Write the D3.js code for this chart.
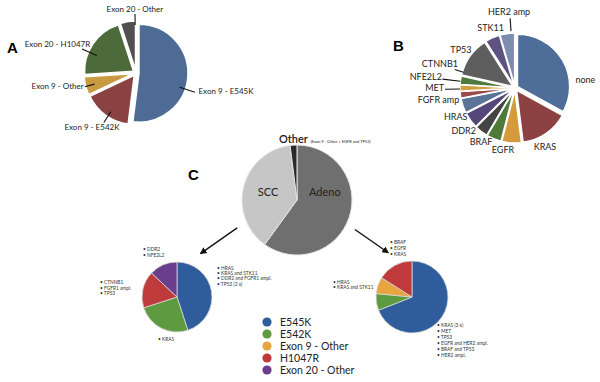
<!DOCTYPE html>
<html>
<head>
<meta charset="utf-8">
<script src="https://cdn.jsdelivr.net/npm/d3@7"></script>
<style>
    body { margin: 0; background: #fff; }
    svg { display: block; font-family: Lato, "Open Sans", sans-serif; }
</style>
</head>
<body>
<div id="chart"></div>
<script>

// ---- Panel A: PIK3CA mutation types
const exonNames = ["Exon 9 - E545K", "Exon 9 - E542K", "Exon 9 - Other", "Exon 20 - H1047R", "Exon 20 - Other"];
const exonShares = [52, 16, 6, 21, 5];
const exonColors = ["#4d6b95", "#8a4242", "#c99a40", "#4d6a3a", "#505050"];

// ---- Panel B: co-occurring alterations
const geneNames = ["none", "KRAS", "EGFR", "BRAF", "DDR2", "HRAS", "FGFR amp", "MET", "NFE2L2", "CTNNB1", "TP53", "STK11", "HER2 amp"];
const geneShares = [33, 15, 6, 4.5, 4, 5, 4.5, 2, 2, 2.5, 12.5, 4.5, 4.5];
const geneColors = ["#4e6d98", "#8c4242", "#d49a3c", "#4e7a3a", "#444444", "#55477a", "#5a7396",
                    "#9a4a4a", "#d0a040", "#4f7a3e", "#5e5e5e", "#5e5280", "#7d8db0"];

// ---- Panel C: histology + mutation split
const histNames = ["Adeno", "SCC", "Other"];
const histShares = [60, 38, 2];
const histColors = ["#6f6f6f", "#c6c6c6", "#2b2b2b"];

const mutNames = ["E545K", "E542K", "Exon 9 - Other", "H1047R", "Exon 20 - Other"];
const mutColors = ["#2f5c9b", "#5e9a40", "#e6a53e", "#bf3a3a", "#6a3e8c"];
const sccShares = [45, 25, 0, 17, 13];
const adenoShares = [69, 7.5, 7.5, 16, 0];

// co-mutation notes next to the small pies
const sccNotesTop = ["DDR2", "NFE2L2"];
const sccNotesRight = ["HRAS", "KRAS and STK11", "DDR2 and FGFR1 ampl.", "TP53 (2 x)"];
const sccNotesLeft = ["CTNNB1", "FGFR1 ampl.", "TP53"];
const sccNotesBottom = ["KRAS"];
const adenoNotesTop = ["BRAF", "EGFR", "KRAS"];
const adenoNotesLeft = ["HRAS", "KRAS and STK11"];
const adenoNotesRight = ["KRAS (3 x)", "MET", "TP53", "EGFR and HER2 ampl.", "BRAF and TP53", "HER2 ampl."];

const width = 600, height = 382;

const svg = d3.select("#chart").append("svg")
    .attr("width", width)
    .attr("height", height);

svg.append("defs").append("marker")
    .attr("id", "arrow")
    .attr("viewBox", "0 0 10 10")
    .attr("refX", 8).attr("refY", 5)
    .attr("markerWidth", 5).attr("markerHeight", 5)
    .attr("orient", "auto")
    .append("path")
    .attr("d", "M0,0 L10,5 L0,10 z")
    .attr("fill", "#111");

// polar helper, angle in degrees clockwise from 12 o'clock
function polar(deg, r) {
    let a = deg * Math.PI / 180;
    return [r * Math.sin(a), -r * Math.cos(a)];
}

function drawPie(cx, cy, names, shares, colors, opts) {
    let rows = names.map((n, i) => ({name: n, value: shares[i], color: colors[i]}));
    let pie = d3.pie().sort(null).value(d => d.value)(rows).filter(d => d.value > 0);
    let arc = d3.arc().innerRadius(0).outerRadius(opts.r);

    let g = svg.append("g").attr("transform", "translate(" + cx + "," + cy + ")");
    g.selectAll("path")
        .data(pie)
        .enter()
        .append("path")
        .attr("transform", d => {
            let mid = (d.startAngle + d.endAngle) / 2 * 180 / Math.PI;
            let p = polar(mid, opts.offset || 0);
            return "translate(" + p[0] + "," + p[1] + ")";
        })
        .attr("d", arc)
        .attr("fill", d => d.data.color)
        .attr("stroke", opts.stroke)
        .attr("stroke-width", opts.strokeWidth);
    return g;
}

// labels with optional leader line: angle, line radii, text radius, anchor
function drawLabels(g, layout, size) {
    layout.forEach(l => {
        if (l.r1) {
            let a = polar(l.lineAngle || l.angle, l.r1), b = polar(l.lineAngle || l.angle, l.r2);
            g.append("line")
                .attr("x1", a[0]).attr("y1", a[1])
                .attr("x2", b[0]).attr("y2", b[1])
                .attr("stroke", "#111").attr("stroke-width", 1.1);
        }
        let t = polar(l.angle, l.rt);
        g.append("text")
            .attr("x", t[0]).attr("y", t[1])
            .attr("dy", "0.35em")
            .attr("text-anchor", l.anchor)
            .attr("font-size", size)
            .attr("fill", "#222")
            .text(l.name);
    });
}

// ---------- A
let gA = drawPie(136, 73, exonNames, exonShares, exonColors, {r: 49, offset: 3, stroke: "#fff", strokeWidth: 1.5});
drawLabels(gA, [
    {name: exonNames[0], angle: 106, lineAngle: 108, r1: 46, r2: 62, rt: 65, anchor: "start"},
    {name: exonNames[1], angle: 219, lineAngle: 213, r1: 46, r2: 59, rt: 70, anchor: "middle"},
    {name: exonNames[2], angle: 256, lineAngle: 255, r1: 43, r2: 53, rt: 54, anchor: "end"},
    {name: exonNames[3], angle: 302, lineAngle: 294, r1: 43, r2: 59, rt: 54, anchor: "end"},
    {name: exonNames[4], angle: 359, r1: 48, r2: 59, rt: 64, anchor: "middle"}
], 8);

// ---------- B
let gB = drawPie(515, 88, geneNames, geneShares, geneColors, {r: 52, offset: 3, stroke: "#fff", strokeWidth: 1.3});
drawLabels(gB, [
    {name: geneNames[0], angle: 82, rt: 61, anchor: "start"},
    {name: geneNames[1], angle: 153, rt: 66, anchor: "middle"},
    {name: geneNames[2], angle: 191, rt: 63, anchor: "middle"},
    {name: geneNames[3], angle: 212, rt: 64, anchor: "middle"},
    {name: geneNames[4], angle: 230, rt: 67, anchor: "middle"},
    {name: geneNames[5], angle: 244, rt: 66, anchor: "middle"},
    {name: geneNames[6], angle: 258, rt: 57, anchor: "end"},
    {name: geneNames[7], angle: 270, lineAngle: 269, r1: 55, r2: 70, rt: 71, anchor: "end"},
    {name: geneNames[8], angle: 279, lineAngle: 277, r1: 55, r2: 73, rt: 74, anchor: "end"},
    {name: geneNames[9], angle: 293, lineAngle: 287, r1: 54, r2: 63, rt: 62, anchor: "end"},
    {name: geneNames[10], angle: 305, rt: 66, anchor: "middle"},
    {name: geneNames[11], angle: 338, rt: 65, anchor: "middle"},
    {name: geneNames[12], angle: 355.5, lineAngle: 356, r1: 57, r2: 70, rt: 76, anchor: "middle"}
], 9);

// ---------- C main pie
let gC = drawPie(297, 200, histNames, histShares, histColors, {r: 55, offset: 0, stroke: "#e4e4e4", strokeWidth: 1});
drawLabels(gC, [
    {name: "SCC", angle: 285, rt: 30, anchor: "middle"},
    {name: "Adeno", angle: 74, rt: 29, anchor: "middle"}
], 11);

let other = svg.append("text")
    .attr("x", 279).attr("y", 137)
    .attr("dy", "0.35em")
    .attr("fill", "#222");
other.append("tspan").attr("font-size", 11).attr("font-weight", 600).text("Other ");
other.append("tspan").attr("font-size", 4).text("(Exon 9 - Other + EGFR and TP53)");

// arrows from main pie to subtype pies
[[245, 241, 66, 110], [117, 120, 65, 105]].forEach(a => {
    let s = polar(a[0], a[2]), e = polar(a[1], a[3]);
    svg.append("line")
        .attr("x1", 297 + s[0]).attr("y1", 200 + s[1])
        .attr("x2", 297 + e[0]).attr("y2", 200 + e[1])
        .attr("stroke", "#111").attr("stroke-width", 1.4)
        .attr("marker-end", "url(#arrow)");
});

// small pies
drawPie(177, 297, mutNames, sccShares, mutColors, {r: 35, offset: 0, stroke: "#d8d8d8", strokeWidth: 0.8});
drawPie(412, 297, mutNames, adenoShares, mutColors, {r: 36, offset: 0, stroke: "#d8d8d8", strokeWidth: 0.8});

function noteBlock(x, y, lines, step) {
    let t = svg.append("text").attr("font-size", 4.8).attr("fill", "#333");
    lines.forEach((l, i) => {
        t.append("tspan").attr("x", x).attr("y", y + i * step).text("\u2022 " + l);
    });
}
noteBlock(143, 251, sccNotesTop, 5.5);
noteBlock(217, 270, sccNotesRight, 5.2);
noteBlock(100, 284, sccNotesLeft, 5.5);
noteBlock(158, 341, sccNotesBottom, 5.5);
noteBlock(390, 244, adenoNotesTop, 6);
noteBlock(333, 284, adenoNotesLeft, 5.2);
noteBlock(437, 327, adenoNotesRight, 6);

// legend
let legend = svg.append("g").attr("transform", "translate(267,322)");
let item = legend.selectAll("g")
    .data(mutNames)
    .enter()
    .append("g")
    .attr("transform", (d, i) => "translate(0," + i * 12 + ")");
item.append("circle")
    .attr("r", 4.6)
    .attr("fill", (d, i) => mutColors[i]);
item.append("text")
    .attr("x", 13)
    .attr("dy", "0.35em")
    .attr("font-size", 10.5)
    .attr("fill", "#222")
    .text(d => d);

// panel letters
[["A", 7, 53], ["B", 393, 51], ["C", 188, 180]].forEach(p => {
    svg.append("text")
        .attr("x", p[1]).attr("y", p[2])
        .attr("font-family", "Liberation Sans, Arial, sans-serif")
        .attr("font-weight", "bold")
        .attr("font-size", 15)
        .text(p[0]);
});

</script>
</body>
</html>
